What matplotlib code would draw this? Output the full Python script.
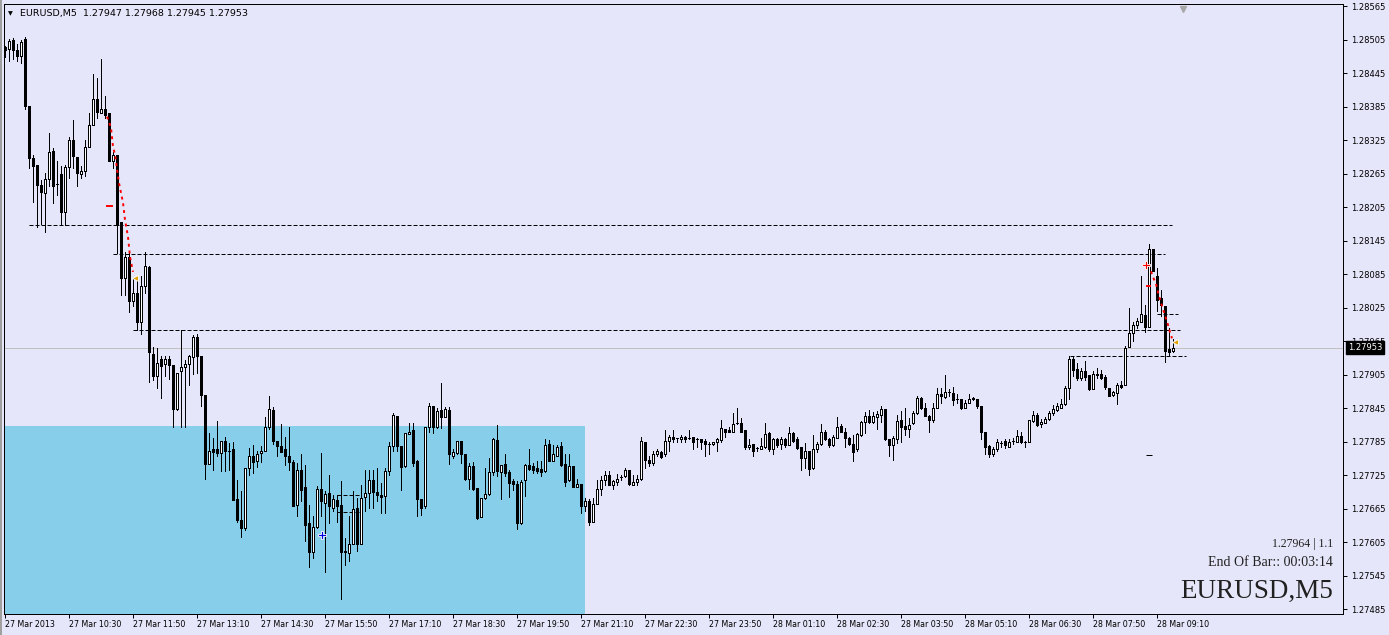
import matplotlib
matplotlib.use("Agg")
import matplotlib.pyplot as plt
import matplotlib.transforms as mtransforms
from matplotlib.patches import Rectangle
import numpy as np

# EURUSD M5 candles, 27 Mar 2013 09:10 .. 28 Mar 09:30 (293 bars)
opens = [
    1.28491, 1.28488, 1.28504, 1.28486, 1.28475, 1.28506, 1.28386, 1.28292, 1.28281, 1.28245,
    1.28231, 1.28256, 1.28306, 1.28247, 1.28265, 1.28196, 1.28277, 1.28325, 1.28294, 1.28265,
    1.28269, 1.28312, 1.28352, 1.28399, 1.28373, 1.28381, 1.28373, 1.28288, 1.28299, 1.28178,
    1.28078, 1.28115, 1.28036, 1.28051, 1.27999, 1.28063, 1.28098, 1.27942, 1.27902, 1.27933,
    1.27924, 1.27933, 1.27923, 1.27844, 1.27911, 1.27918, 1.27924, 1.27936, 1.27973, 1.27939,
    1.27868, 1.27745, 1.27771, 1.27771, 1.27765, 1.27787, 1.27769, 1.27771, 1.27683, 1.27645,
    1.27630, 1.27738, 1.27760, 1.27750, 1.27765, 1.27768, 1.27811, 1.27842, 1.27787, 1.27778,
    1.27771, 1.27760, 1.27749, 1.27672, 1.27735, 1.27703, 1.27639, 1.27587, 1.27632, 1.27700,
    1.27676, 1.27693, 1.27666, 1.27681, 1.27672, 1.27590, 1.27586, 1.27602, 1.27666, 1.27602,
    1.27685, 1.27693, 1.27717, 1.27695, 1.27690, 1.27687, 1.27733, 1.27778, 1.27831, 1.27778,
    1.27741, 1.27799, 1.27806, 1.27750, 1.27682, 1.27669, 1.27811, 1.27849, 1.27812, 1.27842,
    1.27830, 1.27842, 1.27760, 1.27765, 1.27787, 1.27763, 1.27719, 1.27742, 1.27702, 1.27650,
    1.27684, 1.27691, 1.27731, 1.27788, 1.27731, 1.27745, 1.27730, 1.27715, 1.27710, 1.27639,
    1.27717, 1.27744, 1.27741, 1.27738, 1.27736, 1.27732, 1.27781, 1.27750, 1.27760, 1.27778,
    1.27745, 1.27716, 1.27742, 1.27703, 1.27709, 1.27670, 1.27679, 1.27642, 1.27673, 1.27700,
    1.27717, 1.27726, 1.27707, 1.27713, 1.27721, 1.27723, 1.27735, 1.27708, 1.27712, 1.27718,
    1.27784, 1.27753, 1.27747, 1.27763, 1.27766, 1.27762, 1.27787, 1.27793, 1.27791, 1.27790,
    1.27794, 1.27792, 1.27793, 1.27790, 1.27790, 1.27787, 1.27781, 1.27781, 1.27784, 1.27788,
    1.27808, 1.27805, 1.27803, 1.27818, 1.27818, 1.27806, 1.27775, 1.27781, 1.27773, 1.27772,
    1.27776, 1.27800, 1.27771, 1.27790, 1.27781, 1.27790, 1.27779, 1.27800, 1.27790, 1.27775,
    1.27756, 1.27768, 1.27738, 1.27772, 1.27781, 1.27803, 1.27790, 1.27779, 1.27792, 1.27813,
    1.27803, 1.27792, 1.27781, 1.27771, 1.27797, 1.27820, 1.27831, 1.27820, 1.27830, 1.27832,
    1.27843, 1.27790, 1.27779, 1.27790, 1.27824, 1.27813, 1.27808, 1.27818, 1.27836, 1.27863,
    1.27845, 1.27831, 1.27823, 1.27845, 1.27871, 1.27865, 1.27873, 1.27872, 1.27861, 1.27861,
    1.27845, 1.27855, 1.27863, 1.27861, 1.27848, 1.27803, 1.27778, 1.27762, 1.27771, 1.27783,
    1.27787, 1.27776, 1.27787, 1.27785, 1.27795, 1.27785, 1.27785, 1.27822, 1.27833, 1.27817,
    1.27819, 1.27825, 1.27836, 1.27842, 1.27845, 1.27852, 1.27881, 1.27933, 1.27915, 1.27899,
    1.27912, 1.27904, 1.27879, 1.27906, 1.27906, 1.27901, 1.27881, 1.27868, 1.27872, 1.27887,
    1.27886, 1.27954, 1.27979, 1.27994, 1.28000, 1.28012, 1.27990, 1.28130, 1.28082, 1.28042,
    1.28028, 1.27950, 1.27947,
]
highs = [
    1.28493, 1.28506, 1.28508, 1.28497, 1.28504, 1.28509, 1.28386, 1.28299, 1.28281, 1.28254,
    1.28266, 1.28337, 1.28311, 1.28287, 1.28279, 1.28281, 1.28331, 1.28361, 1.28294, 1.28278,
    1.28325, 1.28374, 1.28444, 1.28436, 1.28470, 1.28403, 1.28373, 1.28304, 1.28299, 1.28178,
    1.28125, 1.28123, 1.28078, 1.28078, 1.28081, 1.28125, 1.28100, 1.27954, 1.27953, 1.27938,
    1.27938, 1.27939, 1.27923, 1.27908, 1.27985, 1.27932, 1.27941, 1.27976, 1.27978, 1.27939,
    1.27869, 1.27800, 1.27791, 1.27822, 1.27787, 1.27794, 1.27783, 1.27785, 1.27717, 1.27697,
    1.27738, 1.27774, 1.27779, 1.27768, 1.27778, 1.27830, 1.27867, 1.27847, 1.27787, 1.27817,
    1.27794, 1.27811, 1.27753, 1.27747, 1.27762, 1.27744, 1.27672, 1.27651, 1.27705, 1.27765,
    1.27696, 1.27726, 1.27690, 1.27690, 1.27715, 1.27612, 1.27651, 1.27697, 1.27684, 1.27708,
    1.27735, 1.27735, 1.27735, 1.27738, 1.27711, 1.27738, 1.27785, 1.27836, 1.27831, 1.27778,
    1.27800, 1.27819, 1.27819, 1.27753, 1.27682, 1.27812, 1.27855, 1.27849, 1.27846, 1.27890,
    1.27847, 1.27847, 1.27771, 1.27787, 1.27787, 1.27763, 1.27747, 1.27748, 1.27702, 1.27684,
    1.27737, 1.27756, 1.27791, 1.27815, 1.27744, 1.27762, 1.27735, 1.27718, 1.27714, 1.27717,
    1.27745, 1.27772, 1.27747, 1.27750, 1.27750, 1.27790, 1.27788, 1.27779, 1.27779, 1.27784,
    1.27762, 1.27762, 1.27742, 1.27718, 1.27710, 1.27684, 1.27682, 1.27684, 1.27717, 1.27723,
    1.27732, 1.27733, 1.27717, 1.27727, 1.27726, 1.27737, 1.27735, 1.27726, 1.27726, 1.27794,
    1.27784, 1.27759, 1.27768, 1.27771, 1.27769, 1.27806, 1.27797, 1.27805, 1.27792, 1.27797,
    1.27796, 1.27805, 1.27793, 1.27791, 1.27790, 1.27790, 1.27785, 1.27785, 1.27791, 1.27824,
    1.27808, 1.27812, 1.27836, 1.27845, 1.27827, 1.27806, 1.27790, 1.27781, 1.27776, 1.27791,
    1.27818, 1.27802, 1.27791, 1.27792, 1.27794, 1.27791, 1.27812, 1.27802, 1.27794, 1.27775,
    1.27783, 1.27768, 1.27797, 1.27785, 1.27817, 1.27805, 1.27792, 1.27797, 1.27830, 1.27817,
    1.27809, 1.27794, 1.27797, 1.27800, 1.27822, 1.27838, 1.27842, 1.27838, 1.27839, 1.27848,
    1.27843, 1.27790, 1.27796, 1.27833, 1.27839, 1.27845, 1.27827, 1.27839, 1.27867, 1.27865,
    1.27854, 1.27833, 1.27855, 1.27881, 1.27881, 1.27905, 1.27879, 1.27882, 1.27870, 1.27861,
    1.27860, 1.27871, 1.27865, 1.27861, 1.27848, 1.27803, 1.27779, 1.27775, 1.27790, 1.27787,
    1.27790, 1.27790, 1.27791, 1.27805, 1.27802, 1.27787, 1.27824, 1.27839, 1.27837, 1.27825,
    1.27830, 1.27839, 1.27851, 1.27854, 1.27861, 1.27884, 1.27938, 1.27938, 1.27926, 1.27917,
    1.27929, 1.27905, 1.27911, 1.27917, 1.27914, 1.27905, 1.27881, 1.27875, 1.27890, 1.27893,
    1.27956, 1.28024, 1.28000, 1.28007, 1.28082, 1.28030, 1.28138, 1.28130, 1.28096, 1.28057,
    1.28028, 1.27988, 1.27968,
]
lows = [
    1.28474, 1.28467, 1.28470, 1.28466, 1.28463, 1.28380, 1.28275, 1.28214, 1.28169, 1.28175,
    1.28160, 1.28242, 1.28212, 1.28227, 1.28173, 1.28173, 1.28257, 1.28275, 1.28242, 1.28257,
    1.28261, 1.28312, 1.28352, 1.28364, 1.28373, 1.28364, 1.28288, 1.28275, 1.28123, 1.28047,
    1.28047, 1.28018, 1.28027, 1.27985, 1.27978, 1.28051, 1.27891, 1.27896, 1.27881, 1.27864,
    1.27902, 1.27897, 1.27812, 1.27842, 1.27812, 1.27812, 1.27887, 1.27907, 1.27908, 1.27848,
    1.27719, 1.27745, 1.27734, 1.27760, 1.27732, 1.27732, 1.27734, 1.27680, 1.27642, 1.27614,
    1.27627, 1.27725, 1.27728, 1.27740, 1.27748, 1.27768, 1.27808, 1.27781, 1.27760, 1.27766,
    1.27744, 1.27735, 1.27669, 1.27651, 1.27678, 1.27608, 1.27560, 1.27577, 1.27630, 1.27652,
    1.27551, 1.27640, 1.27660, 1.27642, 1.27504, 1.27565, 1.27572, 1.27602, 1.27590, 1.27602,
    1.27660, 1.27666, 1.27667, 1.27679, 1.27657, 1.27657, 1.27725, 1.27768, 1.27768, 1.27698,
    1.27740, 1.27799, 1.27742, 1.27651, 1.27654, 1.27666, 1.27802, 1.27800, 1.27809, 1.27809,
    1.27830, 1.27745, 1.27756, 1.27763, 1.27747, 1.27717, 1.27701, 1.27699, 1.27646, 1.27650,
    1.27682, 1.27690, 1.27726, 1.27723, 1.27682, 1.27723, 1.27686, 1.27699, 1.27629, 1.27638,
    1.27687, 1.27734, 1.27728, 1.27729, 1.27723, 1.27731, 1.27750, 1.27750, 1.27759, 1.27742,
    1.27706, 1.27714, 1.27703, 1.27703, 1.27658, 1.27660, 1.27635, 1.27642, 1.27673, 1.27690,
    1.27708, 1.27708, 1.27701, 1.27708, 1.27717, 1.27721, 1.27708, 1.27707, 1.27708, 1.27717,
    1.27738, 1.27742, 1.27744, 1.27759, 1.27756, 1.27760, 1.27768, 1.27785, 1.27784, 1.27785,
    1.27785, 1.27790, 1.27771, 1.27776, 1.27772, 1.27759, 1.27762, 1.27779, 1.27768, 1.27784,
    1.27794, 1.27802, 1.27803, 1.27817, 1.27803, 1.27771, 1.27771, 1.27759, 1.27768, 1.27771,
    1.27773, 1.27769, 1.27762, 1.27776, 1.27772, 1.27776, 1.27779, 1.27785, 1.27772, 1.27734,
    1.27738, 1.27726, 1.27736, 1.27766, 1.27779, 1.27788, 1.27776, 1.27778, 1.27791, 1.27802,
    1.27776, 1.27779, 1.27751, 1.27769, 1.27796, 1.27800, 1.27818, 1.27819, 1.27808, 1.27820,
    1.27788, 1.27759, 1.27753, 1.27782, 1.27785, 1.27797, 1.27793, 1.27817, 1.27835, 1.27843,
    1.27831, 1.27802, 1.27820, 1.27845, 1.27854, 1.27863, 1.27866, 1.27851, 1.27854, 1.27844,
    1.27845, 1.27855, 1.27860, 1.27845, 1.27790, 1.27762, 1.27757, 1.27759, 1.27769, 1.27775,
    1.27773, 1.27775, 1.27781, 1.27784, 1.27783, 1.27776, 1.27784, 1.27821, 1.27813, 1.27812,
    1.27818, 1.27824, 1.27833, 1.27840, 1.27845, 1.27851, 1.27861, 1.27902, 1.27896, 1.27896,
    1.27896, 1.27878, 1.27879, 1.27899, 1.27897, 1.27880, 1.27866, 1.27866, 1.27852, 1.27881,
    1.27886, 1.27954, 1.27966, 1.27988, 1.28000, 1.27982, 1.27990, 1.28090, 1.28019, 1.28010,
    1.27928, 1.27940, 1.27945,
]
closes = [
    1.28486, 1.28502, 1.28486, 1.28476, 1.28501, 1.28386, 1.28293, 1.28279, 1.28244, 1.28232,
    1.28255, 1.28303, 1.28242, 1.28247, 1.28196, 1.28277, 1.28325, 1.28296, 1.28266, 1.28269,
    1.28312, 1.28352, 1.28399, 1.28376, 1.28381, 1.28370, 1.28288, 1.28299, 1.28173, 1.28078,
    1.28115, 1.28036, 1.28051, 1.28000, 1.28063, 1.28099, 1.27945, 1.27902, 1.27926, 1.27920,
    1.27933, 1.27923, 1.27844, 1.27908, 1.27918, 1.27924, 1.27938, 1.27972, 1.27938, 1.27868,
    1.27745, 1.27769, 1.27766, 1.27765, 1.27787, 1.27768, 1.27769, 1.27681, 1.27644, 1.27630,
    1.27738, 1.27760, 1.27748, 1.27762, 1.27769, 1.27811, 1.27843, 1.27787, 1.27778, 1.27767,
    1.27759, 1.27749, 1.27669, 1.27735, 1.27699, 1.27636, 1.27588, 1.27633, 1.27700, 1.27678,
    1.27691, 1.27669, 1.27682, 1.27670, 1.27587, 1.27587, 1.27602, 1.27664, 1.27602, 1.27684,
    1.27693, 1.27717, 1.27694, 1.27690, 1.27685, 1.27733, 1.27778, 1.27833, 1.27778, 1.27739,
    1.27800, 1.27803, 1.27747, 1.27682, 1.27667, 1.27811, 1.27849, 1.27812, 1.27840, 1.27830,
    1.27843, 1.27763, 1.27766, 1.27787, 1.27763, 1.27719, 1.27742, 1.27701, 1.27649, 1.27684,
    1.27691, 1.27731, 1.27789, 1.27732, 1.27744, 1.27729, 1.27711, 1.27709, 1.27639, 1.27713,
    1.27744, 1.27736, 1.27735, 1.27732, 1.27730, 1.27779, 1.27751, 1.27762, 1.27775, 1.27744,
    1.27712, 1.27742, 1.27703, 1.27709, 1.27670, 1.27679, 1.27642, 1.27673, 1.27700, 1.27717,
    1.27726, 1.27708, 1.27714, 1.27719, 1.27722, 1.27735, 1.27709, 1.27713, 1.27718, 1.27787,
    1.27752, 1.27747, 1.27763, 1.27768, 1.27757, 1.27787, 1.27793, 1.27790, 1.27791, 1.27794,
    1.27790, 1.27792, 1.27785, 1.27790, 1.27785, 1.27781, 1.27781, 1.27785, 1.27790, 1.27809,
    1.27803, 1.27802, 1.27817, 1.27818, 1.27803, 1.27775, 1.27779, 1.27769, 1.27773, 1.27778,
    1.27799, 1.27771, 1.27790, 1.27779, 1.27790, 1.27779, 1.27800, 1.27787, 1.27773, 1.27756,
    1.27769, 1.27736, 1.27772, 1.27781, 1.27802, 1.27790, 1.27779, 1.27793, 1.27812, 1.27802,
    1.27792, 1.27781, 1.27766, 1.27799, 1.27820, 1.27831, 1.27821, 1.27831, 1.27834, 1.27843,
    1.27790, 1.27779, 1.27791, 1.27822, 1.27812, 1.27808, 1.27815, 1.27837, 1.27863, 1.27845,
    1.27831, 1.27823, 1.27845, 1.27870, 1.27866, 1.27874, 1.27873, 1.27860, 1.27861, 1.27845,
    1.27855, 1.27861, 1.27861, 1.27848, 1.27802, 1.27776, 1.27762, 1.27772, 1.27785, 1.27783,
    1.27779, 1.27785, 1.27787, 1.27795, 1.27785, 1.27785, 1.27824, 1.27833, 1.27814, 1.27821,
    1.27825, 1.27836, 1.27844, 1.27848, 1.27853, 1.27881, 1.27933, 1.27914, 1.27899, 1.27912,
    1.27900, 1.27879, 1.27906, 1.27905, 1.27899, 1.27882, 1.27867, 1.27873, 1.27887, 1.27883,
    1.27953, 1.27979, 1.27994, 1.28001, 1.28013, 1.27990, 1.28130, 1.28090, 1.28039, 1.28030,
    1.27948, 1.27945, 1.27953,
]

time_labels = [
    "27 Mar 2013", "27 Mar 10:30", "27 Mar 11:50", "27 Mar 13:10", "27 Mar 14:30",
    "27 Mar 15:50", "27 Mar 17:10", "27 Mar 18:30", "27 Mar 19:50", "27 Mar 21:10",
    "27 Mar 22:30", "27 Mar 23:50", "28 Mar 01:10", "28 Mar 02:30", "28 Mar 03:50",
    "28 Mar 05:10", "28 Mar 06:30", "28 Mar 07:50", "28 Mar 09:10",
]
time_label_bars = [0, 16, 32, 48, 64, 80, 96, 112, 128, 144, 160, 176, 192, 208, 224, 240, 256, 272, 288]
price_ticks = [
    "1.27485", "1.27545", "1.27605", "1.27665", "1.27725", "1.27785", "1.27845",
    "1.27905", "1.27965", "1.28025", "1.28085", "1.28145", "1.28205", "1.28265",
    "1.28325", "1.28385", "1.28445", "1.28505", "1.28565",
]

# dashed levels drawn by indicators: price, first bar, last bar
level_prices = [1.28173, 1.28121, 1.27985, 1.27939, 1.28014, 1.27689, 1.27659]
level_start = [6, 27, 32, 266.25, 288, 83, 83]
level_end = [291.75, 290, 293.75, 295.25, 293.25, 88.75, 88.75]

# red dotted trails
trail_left_bar = [25.5, 26.5, 27, 27.5, 28.5, 29.5, 30, 30.75, 31.25, 31.75, 32]
trail_left_price = [1.28367, 1.28347, 1.28313, 1.28299, 1.28248, 1.28213, 1.28182,
                    1.28152, 1.28116, 1.28098, 1.28089]
trail_right_bar = [286.5, 287.1, 287.7, 288.5, 289.3, 290.8, 291.25, 291.75]
trail_right_price = [1.28090, 1.28078, 1.28069, 1.28045, 1.28027, 1.27993, 1.27981, 1.27970]

zone_top = 1.27813
zone_end_bar = 145
bid = 1.27953
bid_label = "1.27953"
title = "EURUSD,M5  1.27947 1.27968 1.27945 1.27953"

BG = '#E6E6FA'
W, H = 1389, 635
PX = 0.72  # one pixel in points

fig = plt.figure(figsize=(W / 100, H / 100), dpi=100)
fig.patch.set_facecolor(BG)
ax = fig.add_axes([4 / W, 1 - 614 / H, 1339 / W, 610 / H])
ax.set_facecolor(BG)
ax.set_xlim(-0.25, 334.5)
ax.set_ylim(1.274764, 1.285686)

# sky blue session box
ax.add_patch(Rectangle((-1, 1.27), zone_end_bar + 1, zone_top - 1.27,
                       facecolor='#87CEEB', edgecolor='none', zorder=0.5))

ax.axhline(bid, color='#C0C0C0', linewidth=PX, zorder=1)
ax.hlines(level_prices, level_start, level_end, colors='black',
          linestyles=(0, (4, 2)), linewidth=PX, zorder=2)

o = np.array(opens)
h = np.array(highs)
l = np.array(lows)
c = np.array(closes)
x = np.arange(len(o))

ax.vlines(x, l, h, colors='black', linewidth=PX, antialiased=False, zorder=3)
fills = np.where(c > o, 'white', 'black')
ax.bar(x, np.abs(c - o), bottom=np.minimum(o, c), width=0.5, color=fills,
       edgecolor='black', linewidth=PX, antialiased=False, zorder=4)

# indicator marks
ax.plot(trail_left_bar, trail_left_price, color='red', linestyle=(0, (1.5, 2)),
        linewidth=1.4, zorder=5)
ax.plot(trail_right_bar, trail_right_price, color='red', linestyle=(0, (1.5, 2)),
        linewidth=1.4, zorder=5)
ax.hlines([1.28207, 1.28064], [25.25, 285.25], [27, 286.5], colors='red', linewidth=1.4, zorder=5)
ax.hlines([1.27761], [285.25], [286.75], colors='black', linewidth=PX, zorder=5)
ax.plot([32.5, 292.5], [1.28078, 1.27964], marker='<', linestyle='none', color='#E0A000',
        markeredgecolor='white', markeredgewidth=0.6, markersize=5, zorder=6)
ax.plot([285.25], [1.28102], marker='P', linestyle='none', color='red',
        markeredgecolor='white', markeredgewidth=0.6, markersize=6, zorder=6)
ax.plot([79.25], [1.27617], marker='P', linestyle='none', color='#0000E0',
        markeredgecolor='white', markeredgewidth=0.6, markersize=6, zorder=6)

# chart shift marker
shift_tr = mtransforms.blended_transform_factory(ax.transData, ax.transAxes)
ax.plot([294.5], [0.992], transform=shift_tr, marker='v', color='#A8A8A8',
        markersize=5, linestyle='none', clip_on=False, zorder=6)

# axes
for s in ax.spines.values():
    s.set_linewidth(PX)
    s.set_color('black')
ax.yaxis.tick_right()
ax.set_yticks([float(t) for t in price_ticks])
ax.set_yticklabels(price_ticks)
ax.set_xticks(time_label_bars)
ax.set_xticklabels(time_labels, ha='left')
ax.tick_params(axis='y', direction='out', length=3, width=PX, pad=2.5,
               labelsize=6, colors='black')
ax.tick_params(axis='x', direction='out', length=3, width=PX, pad=1.5,
               labelsize=5.7, colors='black')

# current bid label (covers most of the 1.27965 tick label, as in the terminal)
lab_tr = mtransforms.blended_transform_factory(ax.transAxes, ax.transData)
ax.text(1.0 + 5 / 1339, bid, bid_label, transform=lab_tr, ha='left', va='center',
        fontsize=6, color='white', zorder=10, clip_on=False,
        bbox=dict(boxstyle='square,pad=0.25', facecolor='black', edgecolor='black'))

# header
fig.text(8 / W, 1 - 15 / H, "\u25BC", fontsize=4.5, color='black', va='baseline')
fig.text(20 / W, 1 - 16 / H, title, fontsize=6.8, color='black', va='baseline')

# info text, bottom right
serif = 'Liberation Serif'
fig.text(1333 / W, 1 - 547 / H, "1.27964 | 1.1", ha='right', va='baseline',
         fontsize=8.5, family=serif, color='#202020')
fig.text(1333 / W, 1 - 566 / H, "End Of Bar:: 00:03:14", ha='right', va='baseline',
         fontsize=10, family=serif, color='#202020')
fig.text(1333 / W, 1 - 598 / H, "EURUSD,M5", ha='right', va='baseline',
         fontsize=19.5, family=serif, color='#202020')

# window edge on the left
fig.patches.append(Rectangle((0, 0), 2 / W, 1, transform=fig.transFigure,
                             facecolor='#A0A0A0', edgecolor='none'))

fig.savefig('out.png', dpi=100, facecolor=BG)
